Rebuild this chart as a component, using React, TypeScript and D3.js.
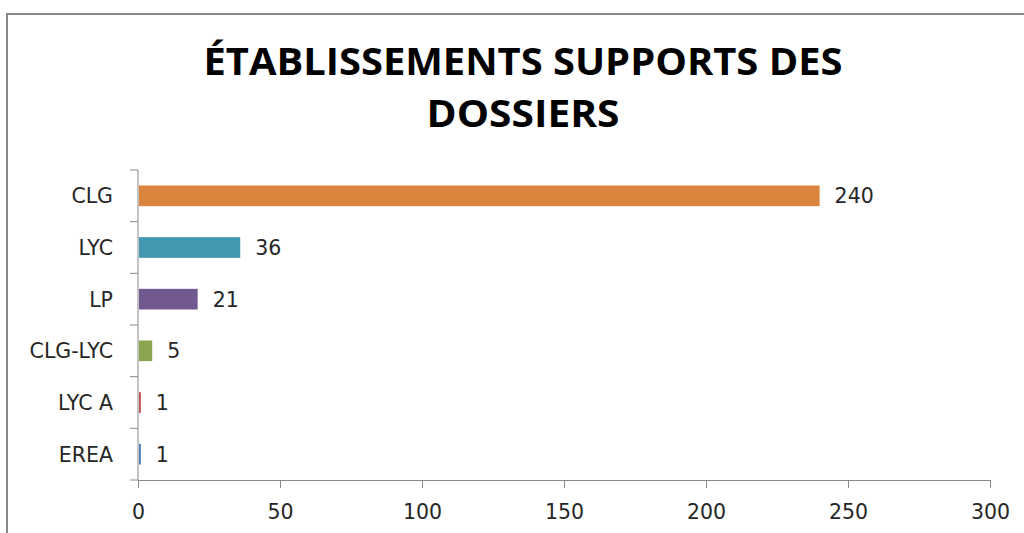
import React, { useEffect, useRef } from 'react';
import * as d3 from 'd3';

const categories = ['CLG', 'LYC', 'LP', 'CLG-LYC', 'LYC A', 'EREA'];
const values = [240, 36, 21, 5, 1, 1];
const barColors = ['#db843d', '#4198af', '#71588f', '#89a54e', '#c0504d', '#4a7ebb'];
const xTicks = [0, 50, 100, 150, 200, 250, 300];
const titleLines = ['ÉTABLISSEMENTS SUPPORTS DES', 'DOSSIERS'];

const W = 1024;
const H = 533;
const margin = { top: 170, right: 34, bottom: 53, left: 138 };
const labelFont = '"DejaVu Sans", Verdana, sans-serif';
const labelSize = 20.5;

const App = () => {
  const svgRef = useRef<SVGSVGElement | null>(null);

  useEffect(() => {
    if (!svgRef.current) return;
    const svg = d3.select(svgRef.current);
    svg.selectAll('*').remove();

    svg.append('rect').attr('width', W).attr('height', H).attr('fill', '#fff');

    // cadre (haut + gauche)
    svg.append('line').attr('x1', 7).attr('x2', W).attr('y1', 14).attr('y2', 14)
      .attr('stroke', '#878787').attr('stroke-width', 2);
    svg.append('line').attr('x1', 7).attr('x2', 7).attr('y1', 13).attr('y2', H)
      .attr('stroke', '#878787').attr('stroke-width', 2);

    // titre
    const titleW = [639, 193];
    const titleY = [75, 127];
    titleLines.forEach((t, i) => {
      svg.append('text')
        .attr('x', 523)
        .attr('y', titleY[i])
        .attr('text-anchor', 'middle')
        .attr('font-family', '"Open Sans", sans-serif')
        .attr('font-weight', 700)
        .attr('font-size', 38)
        .attr('textLength', titleW[i])
        .attr('lengthAdjust', 'spacingAndGlyphs')
        .attr('fill', '#000')
        .text(t);
    });

    const width = W - margin.left - margin.right;
    const height = H - margin.top - margin.bottom;
    const chart = svg.append('g').attr('transform', `translate(${margin.left},${margin.top})`);

    const xScale = d3.scaleLinear().domain([0, 300]).range([0, width]);
    const yScale = d3.scaleBand().domain(categories).range([0, height])
      .paddingInner(0.6).paddingOuter(0.3);

    // barres
    chart.selectAll('rect.bar')
      .data(values)
      .enter()
      .append('rect')
      .attr('class', 'bar')
      .attr('x', xScale(0) + 1)
      .attr('y', (_, i) => yScale(categories[i])!)
      .attr('width', (d) => Math.max(xScale(d) - xScale(0) - 1, 1.5))
      .attr('height', yScale.bandwidth())
      .attr('fill', (_, i) => barColors[i]);

    // étiquettes de valeurs
    chart.selectAll('text.val')
      .data(values)
      .enter()
      .append('text')
      .attr('class', 'val')
      .attr('x', (d) => xScale(d) + 15)
      .attr('y', (_, i) => yScale(categories[i])! + yScale.bandwidth() / 2)
      .attr('dy', '0.36em')
      .attr('font-family', labelFont)
      .attr('font-size', labelSize)
      .attr('fill', '#262626')
      .text((d) => d);

    // axe X
    const xAxis = chart.append('g')
      .attr('transform', `translate(0,${height})`)
      .call(d3.axisBottom(xScale).tickValues(xTicks).tickSize(8).tickPadding(16).tickSizeOuter(0));
    xAxis.select('.domain').attr('stroke', '#888');
    xAxis.selectAll('.tick line').attr('stroke', '#888');
    xAxis.selectAll('.tick text')
      .attr('font-family', labelFont)
      .attr('font-size', labelSize)
      .attr('fill', '#262626');

    // axe Y avec graduations entre les catégories
    const yAxis = chart.append('g');
    yAxis.append('line').attr('x1', 0).attr('x2', 0).attr('y1', 0).attr('y2', height)
      .attr('stroke', '#888');
    const step = yScale.step();
    const bounds = d3.range(categories.length + 1).map((i) => i * step);
    yAxis.selectAll('line.tk')
      .data(bounds)
      .enter()
      .append('line')
      .attr('class', 'tk')
      .attr('x1', -8)
      .attr('x2', 0)
      .attr('y1', (d) => d)
      .attr('y2', (d) => d)
      .attr('stroke', '#888');
    yAxis.selectAll('text.cat')
      .data(categories)
      .enter()
      .append('text')
      .attr('class', 'cat')
      .attr('x', -25)
      .attr('y', (d) => yScale(d)! + yScale.bandwidth() / 2)
      .attr('dy', '0.36em')
      .attr('text-anchor', 'end')
      .attr('font-family', labelFont)
      .attr('font-size', labelSize)
      .attr('fill', '#262626')
      .text((d) => d);
  }, []);

  return (
    <svg
      ref={svgRef}
      width={W}
      height={H}
      style={{ position: 'absolute', left: 0, top: 0, display: 'block' }}
    />
  );
};

export default App;
